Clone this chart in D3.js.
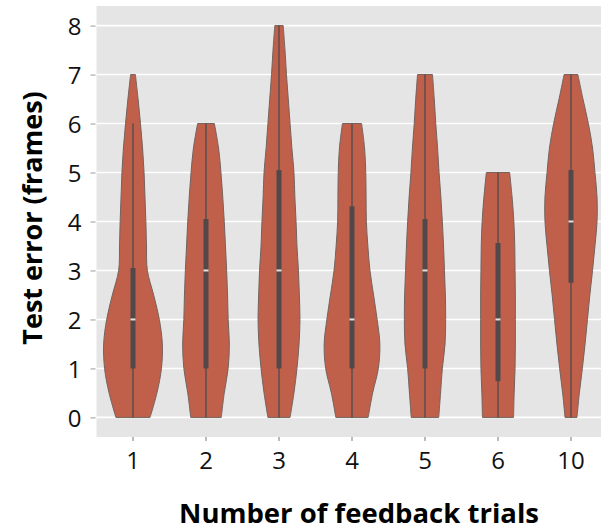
<!DOCTYPE html>
<html><head><meta charset="utf-8">
<script src="https://cdn.jsdelivr.net/npm/d3@7"></script>
<style>body{margin:0;background:#fff}svg{display:block}</style>
</head><body>
<svg id="chart" width="601" height="531"></svg>
<script>
// ---- data ----
const categories = ["1","2","3","4","5","6","10"];
const yTicks = [0,1,2,3,4,5,6,7,8];
const levelStep = 0.5;
// relative violin density (half-width), sampled at 0, 0.5, 1, ... up to each group's max
const density1  = [0.57,0.80,0.95,0.98,0.88,0.69,0.48,0.45,0.43,0.40,0.37,0.32,0.25,0.17,0.08];
const density2  = [0.51,0.61,0.74,0.78,0.74,0.72,0.69,0.65,0.61,0.56,0.50,0.42,0.28];
const density3  = [0.37,0.50,0.60,0.67,0.70,0.68,0.65,0.60,0.57,0.53,0.50,0.43,0.37,0.31,0.25,0.20,0.14];
const density4  = [0.54,0.69,0.88,0.93,0.84,0.72,0.60,0.53,0.48,0.47,0.46,0.42,0.32];
const density5  = [0.46,0.52,0.58,0.67,0.69,0.68,0.65,0.62,0.58,0.53,0.47,0.42,0.36,0.31,0.25];
const density6  = [0.52,0.54,0.57,0.58,0.58,0.58,0.57,0.56,0.53,0.47,0.39];
const density10 = [0.20,0.28,0.38,0.47,0.55,0.63,0.72,0.80,0.87,0.87,0.80,0.72,0.58,0.40,0.23];
const densities = [density1,density2,density3,density4,density5,density6,density10];
const q1s      = [1,1,1,1,1,0.74,2.75];
const medians  = [2,3,3,2,3,2,4];
const q3s      = [3.05,4.05,5.05,4.31,4.05,3.56,5.05];
const whiskLo  = [0,0,0,0,0,0,0];
const whiskHi  = [6,6,8,6,7,5,7];
const xTitle = "Number of feedback trials";
const yTitle = "Test error (frames)";

// ---- drawing ----
const svg = d3.select("#chart");
const panel = {left:96.5, top:6, right:607.5, bottom:437};
const x = d3.scaleBand().domain(categories).range([panel.left, panel.right]).padding(0);
const y = d3.scaleLinear().domain([-0.4, 8.4]).range([panel.bottom, panel.top]);
const w = d3.scaleLinear().domain([0,1]).range([0, x.bandwidth()*0.41]);

svg.append("rect").attr("x",panel.left).attr("y",panel.top)
  .attr("width",panel.right-panel.left).attr("height",panel.bottom-panel.top)
  .attr("fill","#e5e5e5");

svg.append("g").selectAll("line").data(yTicks).join("line")
  .attr("x1",panel.left).attr("x2",panel.right)
  .attr("y1",d=>y(d)).attr("y2",d=>y(d))
  .attr("stroke","#fff").attr("stroke-width",1.6);

// axes
const yAxis = svg.append("g").attr("transform",`translate(${panel.left-1},0)`)
  .call(d3.axisLeft(y).tickValues(yTicks).tickSize(5).tickPadding(9));
yAxis.select(".domain").remove();
yAxis.selectAll(".tick line").attr("stroke","#9a9a9a");
yAxis.selectAll(".tick text").attr("font-family","Open Sans").attr("font-size",24).attr("fill","#111").attr("dy","0.36em");

const xAxis = svg.append("g").attr("transform",`translate(0,${panel.bottom})`)
  .call(d3.axisBottom(x).tickSize(4).tickPadding(11));
xAxis.select(".domain").remove();
xAxis.selectAll(".tick line").attr("stroke","#777");
xAxis.selectAll(".tick text").attr("font-family","Open Sans").attr("font-size",24).attr("fill","#111");

// violins
const area = d3.area()
  .y(d=>y(d.v))
  .x0(d=>d.c - w(d.d))
  .x1(d=>d.c + w(d.d))
  .curve(d3.curveCatmullRom.alpha(0.5));

const groups = categories.map((c,i)=>({
  c: x(c)+x.bandwidth()/2,
  pts: densities[i].map((d,j)=>({v:j*levelStep, d, c:x(c)+x.bandwidth()/2})),
  q1:q1s[i], med:medians[i], q3:q3s[i], lo:whiskLo[i], hi:whiskHi[i]
}));

const g = svg.append("g");
g.selectAll("path.violin").data(groups).join("path")
  .attr("class","violin")
  .attr("d",d=>area(d.pts))
  .attr("fill","#c1604a").attr("stroke","#75625d").attr("stroke-width",1);

g.selectAll("line.whisk").data(groups).join("line")
  .attr("class","whisk")
  .attr("x1",d=>d.c).attr("x2",d=>d.c)
  .attr("y1",d=>y(d.lo)).attr("y2",d=>y(d.hi))
  .attr("stroke","#5a4d4b").attr("stroke-width",1.5);

g.selectAll("rect.box").data(groups).join("rect")
  .attr("class","box")
  .attr("x",d=>d.c-2.5).attr("width",5)
  .attr("y",d=>y(d.q3)).attr("height",d=>y(d.q1)-y(d.q3))
  .attr("fill","#524849");

g.selectAll("rect.med").data(groups).join("rect")
  .attr("class","med")
  .attr("x",d=>d.c-2.5).attr("width",5)
  .attr("y",d=>y(d.med)-1).attr("height",2)
  .attr("fill","#e6e0de");

// titles
svg.append("text").attr("x",359).attr("y",523).attr("text-anchor","middle")
  .attr("font-family","Open Sans").attr("font-weight","bold").attr("font-size",27.5)
  .attr("fill","#000").text(xTitle);
svg.append("text").attr("transform","translate(42,218) rotate(-90)").attr("text-anchor","middle")
  .attr("font-family","Open Sans").attr("font-weight","bold").attr("font-size",27)
  .attr("fill","#000").text(yTitle);
</script>
</body></html>
